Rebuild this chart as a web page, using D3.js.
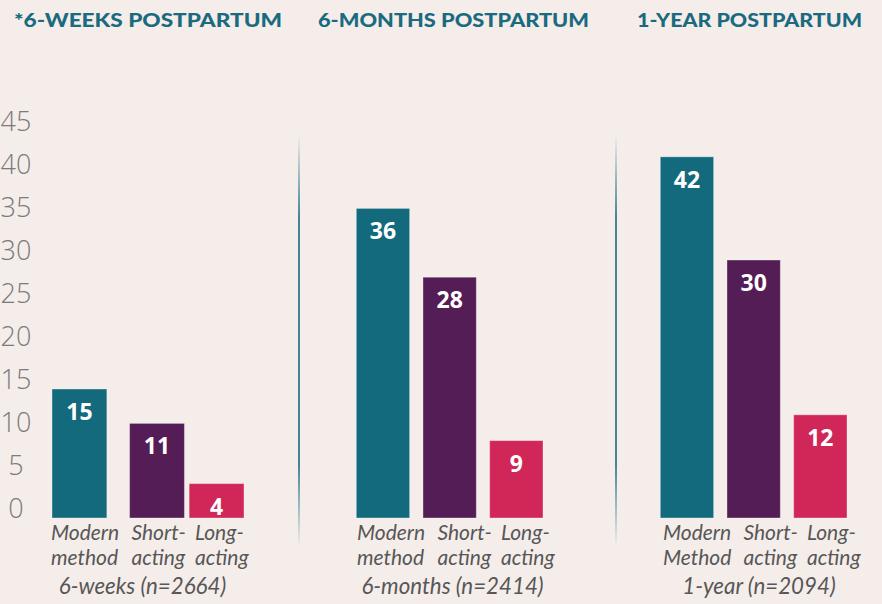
<!DOCTYPE html>
<html>
<head>
<meta charset="utf-8">
<script src="https://cdn.jsdelivr.net/npm/d3@7"></script>
<style>
    html, body { margin: 0; padding: 0; background: #f5edea; }
    svg { display: block; }
</style>
</head>
<body>
<svg id="chart"></svg>
<script>
// data
const titles      = ['*6-WEEKS POSTPARTUM', '6-MONTHS POSTPARTUM', '1-YEAR POSTPARTUM'];
const periods     = ['6-weeks', '6-months', '1-year'];
const sampleSizes = [2664, 2414, 2094];
const methods     = ['Modern method', 'Short-acting', 'Long-acting'];
const labelTop    = ['Modern', 'Short-', 'Long-'];
const labelBottom = [
    ['method', 'acting', 'acting'],
    ['method', 'acting', 'acting'],
    ['Method', 'acting', 'acting']
];
const weeks6  = [15, 11, 4];
const months6 = [36, 28, 9];
const year1   = [42, 30, 12];
const yTicks  = [0, 5, 10, 15, 20, 25, 30, 35, 40, 45];

const series = [weeks6, months6, year1];

/* **************************************************************** *
 *   Layout
 * **************************************************************** */
const W = 882, H = 604;
const colors = ['#146a7d', '#541d56', '#d02658'];

// per panel: bar range, nudge of bars, label start, footer centre, title box
const panels = [
    { range: [52, 244],    nudge: [0, 9, 0], labelX: 51,  footX: 142.5, title: [14, 282] },
    { range: [356.3, 543], nudge: [0, 0, 0], labelX: 357, footX: 452.5, title: [318, 589] },
    { range: [660.3, 847], nudge: [0, 0, 0], labelX: 663, footX: 759,   title: [637, 862] }
];
const labelOffsets = [0, 80.5, 144];
const separators = [299, 616];

const svg = d3.select('#chart').attr('width', W).attr('height', H);

svg.append('rect')
    .attr('width', W).attr('height', H)
    .attr('fill', '#f5edea');

const y = d3.scaleLinear().domain([0, 45]).range([518, 131]);

/* **************************************************************** *
 *   Separators
 * **************************************************************** */
let grad = svg.append('defs')
    .append('linearGradient')
    .attr('id', 'sep')
    .attr('x1', 0).attr('y1', 0).attr('x2', 0).attr('y2', 1);
[[0, 0], [0.2, 1], [0.8, 1], [1, 0]].forEach((s) => {
    grad.append('stop')
        .attr('offset', s[0])
        .attr('stop-color', '#1b6b80')
        .attr('stop-opacity', s[1]);
});

svg.selectAll('rect.sep')
    .data(separators)
    .enter()
    .append('rect')
    .attr('class', 'sep')
    .attr('x', (d) => d - 0.8)
    .attr('y', 135)
    .attr('width', 1.6)
    .attr('height', 412)
    .attr('fill', 'url(#sep)');

/* **************************************************************** *
 *   Y axis (labels only)
 * **************************************************************** */
svg.append('g')
    .attr('class', 'yaxis')
    .selectAll('text')
    .data(yTicks)
    .enter()
    .append('text')
    .attr('x', 16)
    .attr('y', (d) => y(d))
    .attr('text-anchor', 'middle')
    .attr('font-family', '"Open Sans", sans-serif')
    .attr('font-weight', 300)
    .attr('font-size', 27)
    .attr('fill', '#7b7b7b')
    .text((d) => d);

/* **************************************************************** *
 *   Panels
 * **************************************************************** */
panels.forEach((p, pi) => {
    let x = d3.scaleBand()
        .domain(methods)
        .range(p.range)
        .paddingInner(0.2)
        .paddingOuter(0);

    let data = series[pi].map((v, i) => ({
        method: methods[i], value: v, color: colors[i], nudge: p.nudge[i]
    }));

    let g = svg.append('g').attr('class', 'panel');

    // title
    g.append('text')
        .attr('x', p.title[0])
        .attr('y', 27)
        .attr('textLength', p.title[1] - p.title[0])
        .attr('lengthAdjust', 'spacingAndGlyphs')
        .attr('font-family', 'Lato, "DejaVu Sans", sans-serif')
        .attr('font-weight', 900)
        .attr('font-size', 19)
        .attr('fill', '#1a6a80')
        .text(titles[pi]);

    // bars
    g.selectAll('rect.bar')
        .data(data)
        .enter()
        .append('rect')
        .attr('class', 'bar')
        .attr('x', (d) => x(d.method) + d.nudge)
        .attr('y', (d) => y(d.value))
        .attr('width', x.bandwidth())
        .attr('height', (d) => y(0) - y(d.value))
        .attr('fill', (d) => d.color)
        .attr('stroke', 'rgba(255,255,255,0.35)')
        .attr('stroke-width', 1);

    // value labels
    g.selectAll('text.val')
        .data(data)
        .enter()
        .append('text')
        .attr('class', 'val')
        .attr('x', (d) => x(d.method) + d.nudge + x.bandwidth() / 2)
        .attr('y', (d) => y(d.value) + 31)
        .attr('text-anchor', 'middle')
        .attr('font-family', '"Open Sans", sans-serif')
        .attr('font-weight', 700)
        .attr('font-size', 23)
        .attr('fill', '#ffffff')
        .text((d) => d.value);

    // category labels
    let lab = (lines, yy) => {
        g.selectAll(null)
            .data(lines)
            .enter()
            .append('text')
            .attr('x', (d, i) => p.labelX + labelOffsets[i])
            .attr('y', yy)
            .attr('font-family', 'Lato, sans-serif')
            .attr('font-style', 'italic')
            .attr('font-size', 21)
            .attr('fill', '#575757')
            .text((d) => d);
    };
    lab(labelTop, 540);
    lab(labelBottom[pi], 565);

    g.append('text')
        .attr('x', p.footX)
        .attr('y', 594)
        .attr('text-anchor', 'middle')
        .attr('font-family', 'Lato, sans-serif')
        .attr('font-style', 'italic')
        .attr('font-size', 22.3)
        .attr('fill', '#575757')
        .text(periods[pi] + ' (n=' + sampleSizes[pi] + ')');
});
</script>
</body>
</html>
